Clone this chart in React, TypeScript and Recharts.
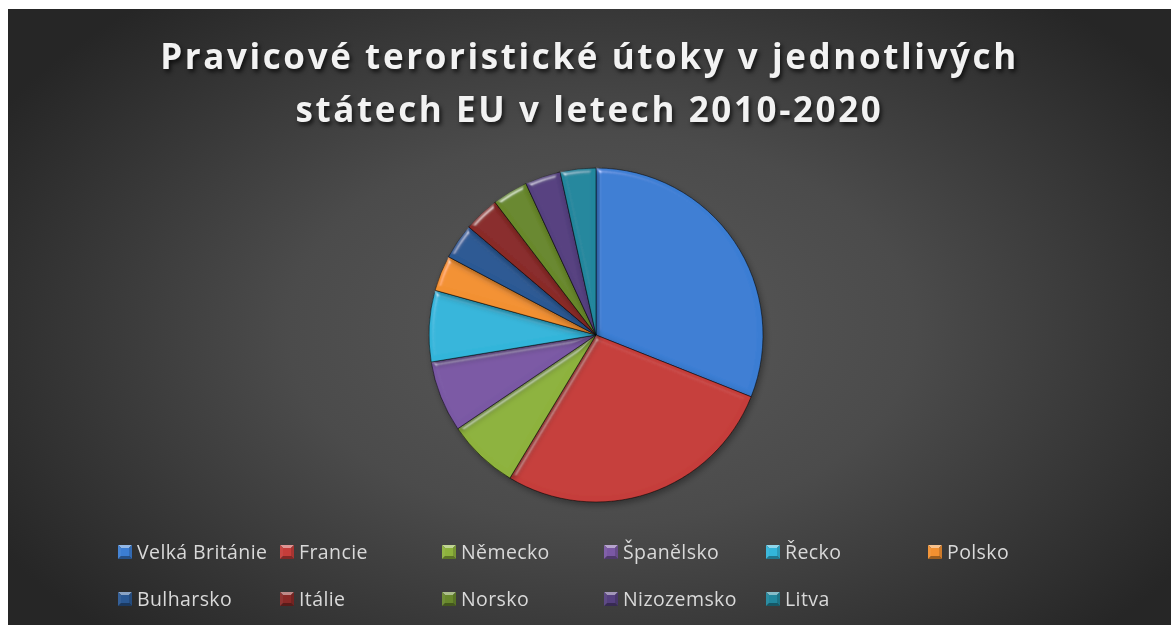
import { PieChart, Pie, Cell, Legend } from 'recharts'

const countries = ['Velká Británie', 'Francie', 'Německo', 'Španělsko', 'Řecko', 'Polsko', 'Bulharsko', 'Itálie', 'Norsko', 'Nizozemsko', 'Litva']
const attacks = [9, 8, 2, 2, 2, 1, 1, 1, 1, 1, 1]
const colors = ['#3b7dd3', '#c53d3a', '#8db23c', '#7a58a4', '#33b5da', '#f29030', '#2a5893', '#892927', '#68882c', '#55407f', '#21879d']

const data = countries.map((name, i) => ({ name, value: attacks[i] }))

const W = 1163
const H = 616
const FONT = '"Open Sans", "Noto Sans", sans-serif'

function shade(hex: string, f: number) {
  const n = parseInt(hex.slice(1), 16)
  const ch = [(n >> 16) & 255, (n >> 8) & 255, n & 255].map(c =>
    f >= 0 ? Math.round(c + (255 - c) * f) : Math.round(c * (1 + f)))
  return `rgb(${ch.join(',')})`
}

// little bevelled square like the Excel legend key
function Key({ color }: { color: string }) {
  return (
    <svg width={14} height={14} style={{ display: 'block', flex: 'none' }}>
      <polygon points="0,0 14,0 7,7" fill={shade(color, 0.45)} />
      <polygon points="14,0 14,14 7,7" fill={shade(color, -0.15)} />
      <polygon points="0,14 14,14 7,7" fill={shade(color, -0.35)} />
      <polygon points="0,0 0,14 7,7" fill={shade(color, 0.05)} />
      <rect x={3} y={3} width={8} height={8} fill={color} />
    </svg>
  )
}

// legend keeps the series order (recharts would sort it by name)
const LegendContent = () => (
  <div style={{ display: 'grid', gridTemplateColumns: 'repeat(6, 162px)', rowGap: 20, fontFamily: FONT, fontSize: 19.5, letterSpacing: 0.4, color: '#d9d9d9' }}>
    {countries.map((name, i) => (
      <div key={name} style={{ display: 'flex', alignItems: 'center', gap: 5, height: 27, whiteSpace: 'nowrap' }}>
        <Key color={colors[i]} />
        <span>{name}</span>
      </div>
    ))}
  </div>
)

export default function App() {
  return (
    <div
      style={{
        position: 'fixed', left: 8, top: 9, width: W, height: H, overflow: 'hidden',
        background: 'radial-gradient(ellipse 60% 70% at 51% 52%, #595959 0%, #4b4b4b 45%, #262626 100%)',
      }}
    >
      <div
        style={{
          position: 'absolute', left: 0, top: 20, width: W, textAlign: 'center',
          fontFamily: FONT, fontWeight: 700, fontSize: 35, letterSpacing: 2.6, lineHeight: '53px',
          color: '#f2f2f2', textShadow: '2px 3px 4px rgba(0,0,0,0.7)',
        }}
      >
        Pravicové teroristické útoky v jednotlivých
        <br />
        státech EU v letech 2010-2020
      </div>
      <PieChart width={W} height={H} margin={{ top: 0, right: 0, bottom: 0, left: 0 }} style={{ position: 'absolute', left: 0, top: 0 }}>
        <defs>
          <filter id="bevel" x="-10%" y="-10%" width="120%" height="120%">
            <feGaussianBlur in="SourceAlpha" stdDeviation="2.5" result="blur" />
            <feSpecularLighting in="blur" surfaceScale="4" specularConstant="0.6" specularExponent="30" lightingColor="#ffffff" result="spec">
              <feDistantLight azimuth="235" elevation="30" />
            </feSpecularLighting>
            <feComposite in="spec" in2="SourceAlpha" operator="in" result="specOut" />
            <feComposite in="SourceGraphic" in2="specOut" operator="arithmetic" k1="0" k2="1" k3="0.7" k4="0" result="lit" />
            <feDropShadow dx="2" dy="3" stdDeviation="3" floodColor="#000" floodOpacity="0.35" />
          </filter>
        </defs>
        <Pie
          data={data}
          dataKey="value"
          nameKey="name"
          cx={588}
          cy={326}
          outerRadius={167}
          startAngle={90}
          endAngle={-270}
          stroke="rgba(0,0,0,0.5)"
          strokeWidth={1}
          isAnimationActive={false}
        >
          {data.map((d, i) => (
            <Cell key={d.name} fill={colors[i]} filter="url(#bevel)" />
          ))}
        </Pie>
        <Legend
          layout="horizontal"
          verticalAlign="bottom"
          content={<LegendContent />}
          wrapperStyle={{ left: 110, top: 529, width: 1000, bottom: 'auto' }}
        />
      </PieChart>
    </div>
  )
}
